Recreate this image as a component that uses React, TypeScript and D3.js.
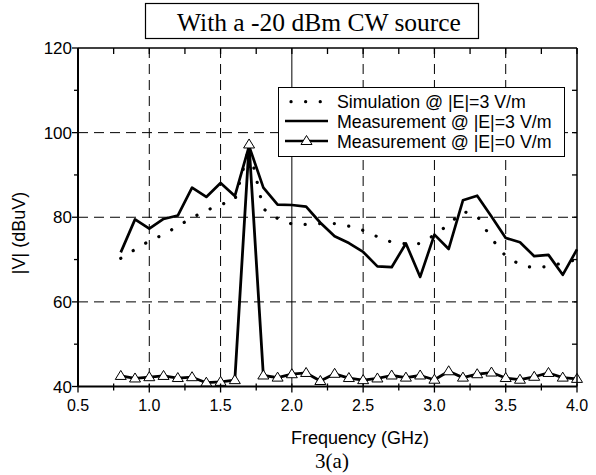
import React from 'react';
import * as d3 from 'd3';

const freqs = [0.8, 0.9, 1.0, 1.1, 1.2, 1.3, 1.4, 1.5, 1.6, 1.7, 1.8, 1.9, 2.0, 2.1, 2.2, 2.3, 2.4, 2.5, 2.6, 2.7, 2.8, 2.9, 3.0, 3.1, 3.2, 3.3, 3.4, 3.5, 3.6, 3.7, 3.8, 3.9, 4.0];
const simulation = [70.3, 72.4, 74.4, 75.9, 77.9, 79.9, 81.6, 83.0, 84.0, 96.5, 82.0, 79.7, 78.4, 78.3, 78.5, 78.5, 77.9, 76.9, 75.4, 74.1, 73.7, 73.8, 75.8, 78.3, 81.4, 80.3, 75.0, 70.8, 68.8, 68.0, 68.4, 69.2, 70.0];
const measE3 = [71.7, 79.5, 77.3, 79.6, 80.4, 87.0, 84.8, 88.1, 85.0, 96.8, 87.0, 83.0, 82.9, 82.5, 78.7, 75.5, 73.9, 71.8, 68.4, 68.2, 73.8, 65.9, 75.9, 72.5, 84.0, 85.1, 80.2, 75.1, 74.1, 70.8, 71.1, 66.4, 72.4];
const measE0 = [42.5, 41.9, 42.2, 42.5, 42.0, 42.2, 40.9, 41.1, 41.5, 97.2, 42.6, 42.1, 42.9, 43.2, 41.3, 43.0, 42.0, 41.5, 41.9, 42.6, 42.1, 42.6, 41.6, 43.6, 42.1, 42.9, 43.3, 42.0, 41.6, 42.3, 43.2, 42.1, 41.8];

const xTickLabels = ['0.5', '1.0', '1.5', '2.0', '2.5', '3.0', '3.5', '4.0'];
const yTickLabels = ['40', '60', '80', '100', '120'];
const legendLabels = ['Simulation @ |E|=3 V/m', 'Measurement @ |E|=3 V/m', 'Measurement @ |E|=0 V/m'];
const titleText = 'With a -20 dBm CW source';
const xTitle = 'Frequency (GHz)';
const yTitle = '|V| (dBuV)';
const caption = '3(a)';

const W = 596, H = 475;
const L = 78, R = 577, T = 48, B = 386.5;
const sans = '"Liberation Sans", Arial, sans-serif';
const serif = '"Liberation Serif", "Times New Roman", serif';

export default function App() {
  const x = d3.scaleLinear().domain([0.5, 4.0]).range([L, R]);
  const y = d3.scaleLinear().domain([40, 120]).range([B, T]);
  const xMajor = xTickLabels.map(Number);
  const yMajor = yTickLabels.map(Number);
  const xMinor = d3.range(0.75, 4.0, 0.5);
  const yMinor = d3.range(50, 120, 20);
  const yAll = d3.range(50, 120, 10);

  const line = d3.line<[number, number]>().x(d => x(d[0])).y(d => y(d[1]));
  const simPts = freqs.map((f, i) => [f, simulation[i]] as [number, number]);
  const e3Pts = freqs.map((f, i) => [f, measE3[i]] as [number, number]);
  const e0Pts = freqs.map((f, i) => [f, measE0[i]] as [number, number]);

  const tri = (cx: number, cy: number) => `M${cx},${cy - 5.5} L${cx + 5.5},${cy + 3.5} L${cx - 5.5},${cy + 3.5} Z`;

  return (
    <svg width={W} height={H} style={{ position: 'absolute', left: 0, top: 0, background: '#fff' }}>
      <rect x={0} y={0} width={W} height={H} fill="#fff" />
      {/* title box */}
      <rect x={145.5} y={3.5} width={333} height={35} fill="#fff" stroke="#000" strokeWidth={1.2} />
      <text x={319} y={31} textAnchor="middle" fontFamily={serif} fontSize={25.5} fill="#000">{titleText}</text>

      {/* grid */}
      {xMajor.filter(v => v > 0.5 && v < 4.0).map(v => (
        <line key={'gx' + v} x1={x(v)} x2={x(v)} y1={T} y2={B}
          stroke="#000" strokeWidth={1}
          strokeDasharray={v === 2.0 ? undefined : '10 6'} />
      ))}
      {yMajor.filter(v => v > 40 && v < 120).map(v => (
        <line key={'gy' + v} x1={L} x2={R} y1={y(v)} y2={y(v)} stroke="#000" strokeWidth={1} strokeDasharray="10 6" />
      ))}

      {/* series */}
      <path d={line(simPts) || ''} fill="none" stroke="#000" strokeWidth={3.2} strokeLinecap="round" strokeDasharray="0.1 14.5" />
      <path d={line(e3Pts) || ''} fill="none" stroke="#000" strokeWidth={2.7} strokeLinejoin="round" />
      <path d={line(e0Pts) || ''} fill="none" stroke="#000" strokeWidth={2.8} strokeLinejoin="round" />
      {e0Pts.map((p, i) => (
        <path key={'m' + i} d={tri(x(p[0]), y(p[1]))} fill="#fff" stroke="#000" strokeWidth={1} />
      ))}

      {/* frame */}
      <line x1={L} x2={R} y1={T} y2={T} stroke="#000" strokeWidth={1.5} />
      <line x1={R} x2={R} y1={T} y2={B} stroke="#000" strokeWidth={1.5} />
      <line x1={L} x2={R} y1={B} y2={B} stroke="#000" strokeWidth={2} />
      <line x1={L} x2={L} y1={T} y2={B} stroke="#000" strokeWidth={2} />

      {/* bottom ticks (outward) */}
      {xMajor.map(v => <line key={'bt' + v} x1={x(v)} x2={x(v)} y1={B - 3} y2={B + 6} stroke="#000" strokeWidth={1.3} />)}
      {xMinor.map(v => <line key={'bm' + v} x1={x(v)} x2={x(v)} y1={B - 3} y2={B + 4} stroke="#000" strokeWidth={1.3} />)}
      {/* top ticks (inward) */}
      {[...xMajor, ...xMinor].map(v => <line key={'tt' + v} x1={x(v)} x2={x(v)} y1={T} y2={T + 6} stroke="#000" strokeWidth={1.3} />)}
      {/* left ticks (outward) */}
      {yMajor.map(v => <line key={'lt' + v} x1={L - 6} x2={L} y1={y(v)} y2={y(v)} stroke="#000" strokeWidth={1.3} />)}
      {yMinor.map(v => <line key={'lm' + v} x1={L - 4} x2={L} y1={y(v)} y2={y(v)} stroke="#000" strokeWidth={1.3} />)}
      {/* right ticks (inward) */}
      {yAll.map(v => <line key={'rt' + v} x1={R - 5} x2={R} y1={y(v)} y2={y(v)} stroke="#000" strokeWidth={1.3} />)}

      {/* tick labels */}
      {xTickLabels.map((s, i) => (
        <text key={'xl' + s} x={x(xMajor[i])} y={411} textAnchor="middle" fontFamily={sans} fontSize={16} fill="#000">{s}</text>
      ))}
      {yTickLabels.map((s, i) => (
        <text key={'yl' + s} x={72} y={y(yMajor[i]) + 6} textAnchor="end" fontFamily={sans} fontSize={17} fill="#000">{s}</text>
      ))}

      {/* axis titles */}
      <text x={360} y={444} textAnchor="middle" fontFamily={sans} fontSize={18} fill="#000">{xTitle}</text>
      <text transform={`translate(25,233) rotate(-90)`} textAnchor="middle" fontFamily={sans} fontSize={18} fill="#000">{yTitle}</text>
      <text x={332} y={468} textAnchor="middle" fontFamily={serif} fontSize={21} fill="#000">{caption}</text>

      {/* legend */}
      <rect x={278.5} y={87.5} width={286} height={69} fill="#fff" stroke="#000" strokeWidth={1} />
      <line x1={291} x2={322} y1={101.7} y2={101.7} stroke="#000" strokeWidth={3.2} strokeLinecap="round" strokeDasharray="0.1 14.5" />
      <line x1={285} x2={328} y1={121} y2={121} stroke="#000" strokeWidth={2.6} />
      <line x1={285} x2={328} y1={141} y2={141} stroke="#000" strokeWidth={2.6} />
      <path d={tri(306.5, 141)} fill="#fff" stroke="#000" strokeWidth={1} />
      {legendLabels.map((s, i) => (
        <text key={'lg' + i} x={337} y={107.5 + i * 20} fontFamily={sans} fontSize={17.8} fill="#000">{s}</text>
      ))}
    </svg>
  );
}
